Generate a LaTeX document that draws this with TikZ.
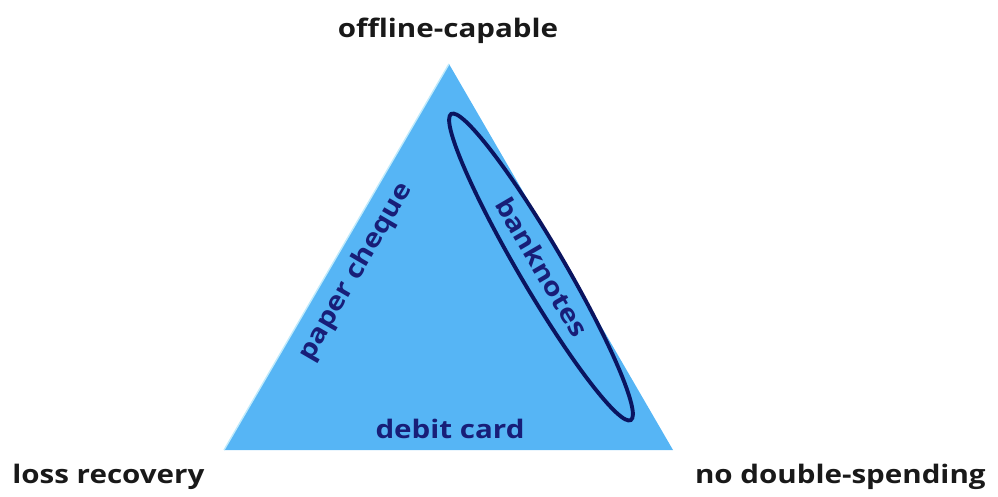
\documentclass[tikz,border=0pt]{standalone}
\usepackage{fontspec}
\setmainfont{Open Sans}[FakeStretch=1.16]
\usetikzlibrary{shapes.geometric}
\definecolor{triblue}{RGB}{86,181,245}
\definecolor{inkblue}{RGB}{24,30,120}
\definecolor{ringblue}{RGB}{10,20,96}

\begin{document}
\begin{tikzpicture}[x=0.02cm,y=-0.02cm,
	corner/.style={font=\fontsize{14.5}{16}\selectfont\bfseries, text=black!90, inner sep=0pt},
	inside/.style={font=\fontsize{14.5}{16}\selectfont\bfseries, text=inkblue, inner sep=0pt}]
	\useasboundingbox (0,0) rectangle (998,497);
	% corners
	\coordinate (top) at (449,64);
	\coordinate (left) at (224,450);
	\coordinate (right) at (673,450);
	% triangle
	\fill[triblue] (top) -- (right) -- (left) -- cycle;
	\draw[cyan!25, line width=0.8pt] (left) -- (top);
	% outer labels
	\node[corner, anchor=base] (offline) at (448,37) {offline-capable};
	\node[corner, anchor=base west] (loss) at (12,483) {loss recovery};
	\node[corner, anchor=base east] (nodouble) at (986,483) {no double-spending};
	% inner labels
	\node[inside, rotate=59.8] (cheque) at (356,272) {paper cheque};
	\node[inside, rotate=-59.6] (notes) at (542,267) {banknotes};
	\node[inside] (debit) at (450,429) {debit card};
	% ring
	\node[draw=ringblue, line width=2.2pt, ellipse, minimum width=7.1cm, minimum height=0.9cm,
		rotate=-59.6] (ring) at (541,267) {};
\end{tikzpicture}
\end{document}
